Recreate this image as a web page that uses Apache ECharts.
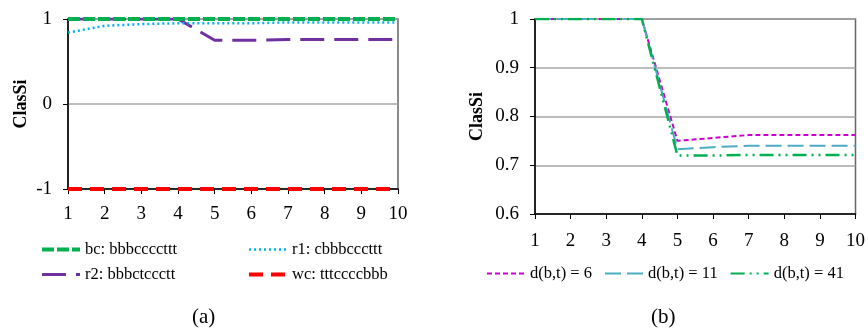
<!DOCTYPE html>
<html>
<head>
<meta charset="utf-8">
<script src="https://cdn.jsdelivr.net/npm/echarts@6/dist/echarts.min.js"></script>
<style>
  html, body { margin: 0; padding: 0; background: #fff; }
  #chart { width: 868px; height: 329px; }
</style>
</head>
<body>
<div id="chart"></div>
<script>
  // x 轴
  var steps = [1, 2, 3, 4, 5, 6, 7, 8, 9, 10];
  // (a) 四条线
  var bc = [1, 1, 1, 1, 1, 1, 1, 1, 1, 1];
  var r1 = [0.84, 0.92, 0.94, 0.95, 0.95, 0.95, 0.96, 0.96, 0.96, 0.96];
  var r2 = [1, 1, 1, 1, 0.75, 0.75, 0.76, 0.76, 0.76, 0.76];
  var wc = [-1, -1, -1, -1, -1, -1, -1, -1, -1, -1];
  // (b) 三条线
  var d6 = [1, 1, 1, 1, 0.75, 0.756, 0.762, 0.762, 0.762, 0.762];
  var d11 = [1, 1, 1, 1, 0.733, 0.737, 0.74, 0.74, 0.74, 0.74];
  var d41 = [1, 1, 1, 1, 0.72, 0.72, 0.721, 0.721, 0.721, 0.721];

  var font = "'Liberation Serif', 'Times New Roman', serif";

  function pts(vals) {
    return steps.map(function (x, i) { return [x, vals[i]]; });
  }

  function line(name, idx, vals, color, width, dash) {
    return {
      name: name,
      type: 'line',
      xAxisIndex: idx,
      yAxisIndex: idx,
      data: pts(vals),
      symbol: 'none',
      symbolSize: 0,
      showSymbol: false,
      animation: false,
      lineStyle: { color: color, width: width, type: dash },
      itemStyle: { color: color }
    };
  }

  function xAx(idx, margin) {
    return {
      gridIndex: idx,
      type: 'value',
      min: 1, max: 10, interval: 1,
      axisLine: { onZero: false, lineStyle: { color: '#000', width: 1.5 } },
      axisTick: { show: true, length: 5, lineStyle: { color: '#000' } },
      axisLabel: { color: '#000', fontFamily: font, fontSize: 19, margin: margin },
      splitLine: { show: false }
    };
  }

  function yAx(idx, min, max, interval, gap, fmt) {
    return {
      gridIndex: idx,
      type: 'value',
      min: min, max: max, interval: interval,
      name: 'ClasSi',
      nameLocation: 'middle',
      nameRotate: 90,
      nameGap: gap,
      nameTextStyle: { color: '#000', fontFamily: font, fontSize: 18, fontWeight: 'bold' },
      axisLine: { show: true, onZero: false, lineStyle: { color: '#000', width: 1.5 } },
      axisTick: { show: true, length: 5, lineStyle: { color: '#000' } },
      axisLabel: { color: '#000', fontFamily: font, fontSize: 19, margin: 16, formatter: fmt },
      splitLine: { show: true, lineStyle: { color: '#a6a6a6', width: 1.5 } }
    };
  }

  var legendText = { color: '#000', fontFamily: font, fontSize: 16.5 };

  var myChart = echarts.init(document.getElementById('chart'));
  myChart.setOption({
    backgroundColor: '#fff',
    title: [
      { text: '(a)', left: 187, top: 302, textStyle: { fontFamily: font, fontSize: 21, fontWeight: 'normal', color: '#000' } },
      { text: '(b)', left: 646, top: 302, textStyle: { fontFamily: font, fontSize: 21, fontWeight: 'normal', color: '#000' } }
    ],
    grid: [
      { left: 68, top: 19, width: 330, height: 170, show: true, borderColor: '#666', borderWidth: 1.5 },
      { left: 535, top: 19, width: 321, height: 195, show: true, borderColor: '#666', borderWidth: 1.5 }
    ],
    xAxis: [xAx(0, 16), xAx(1, 18)],
    yAxis: [
      yAx(0, -1, 1, 1, 38),
      yAx(1, 0.6, 1, 0.1, 49, function (v) { return v === 1 ? '1' : v.toFixed(1); })
    ],
    legend: [
      {
        data: [
          { name: 'bc: bbbccccttt', lineStyle: { width: 4 } },
          { name: 'r2: bbbctccctt', lineStyle: { width: 3 } }
        ],
        orient: 'vertical', left: 40, top: 241, padding: 0,
        itemWidth: 38, itemHeight: 14, itemGap: 8,
        itemStyle: { opacity: 0 },
        textStyle: legendText
      },
      {
        data: [
          { name: 'r1: cbbbcccttt', lineStyle: { width: 2.5 } },
          { name: 'wc: tttccccbbb', lineStyle: { width: 4 } }
        ],
        orient: 'vertical', left: 247, top: 241, padding: 0,
        itemWidth: 38, itemHeight: 14, itemGap: 8,
        itemStyle: { opacity: 0 },
        textStyle: legendText
      },
      {
        data: ['d(b,t) = 6', 'd(b,t) = 11', 'd(b,t) = 41'],
        orient: 'horizontal', left: 486, top: 265, padding: 0,
        itemWidth: 38, itemHeight: 14, itemGap: 12,
        itemStyle: { opacity: 0 },
        textStyle: legendText
      }
    ],
    series: [
      line('wc: tttccccbbb', 0, wc, '#ff0000', 4, [14, 8]),
      line('r2: bbbctccctt', 0, r2, '#7030a0', 3, [24, 10]),
      line('r1: cbbbcccttt', 0, r1, '#00b0f0', 2.5, [2, 3]),
      line('bc: bbbccccttt', 0, bc, '#00b050', 4, [12, 3]),
      line('d(b,t) = 6', 1, d6, '#cc00cc', 2, [5, 3]),
      line('d(b,t) = 11', 1, d11, '#4bacc6', 2, [16, 6]),
      line('d(b,t) = 41', 1, d41, '#00b050', 2.5, [14, 5, 2, 5, 2, 5])
    ]
  });
</script>
</body>
</html>
